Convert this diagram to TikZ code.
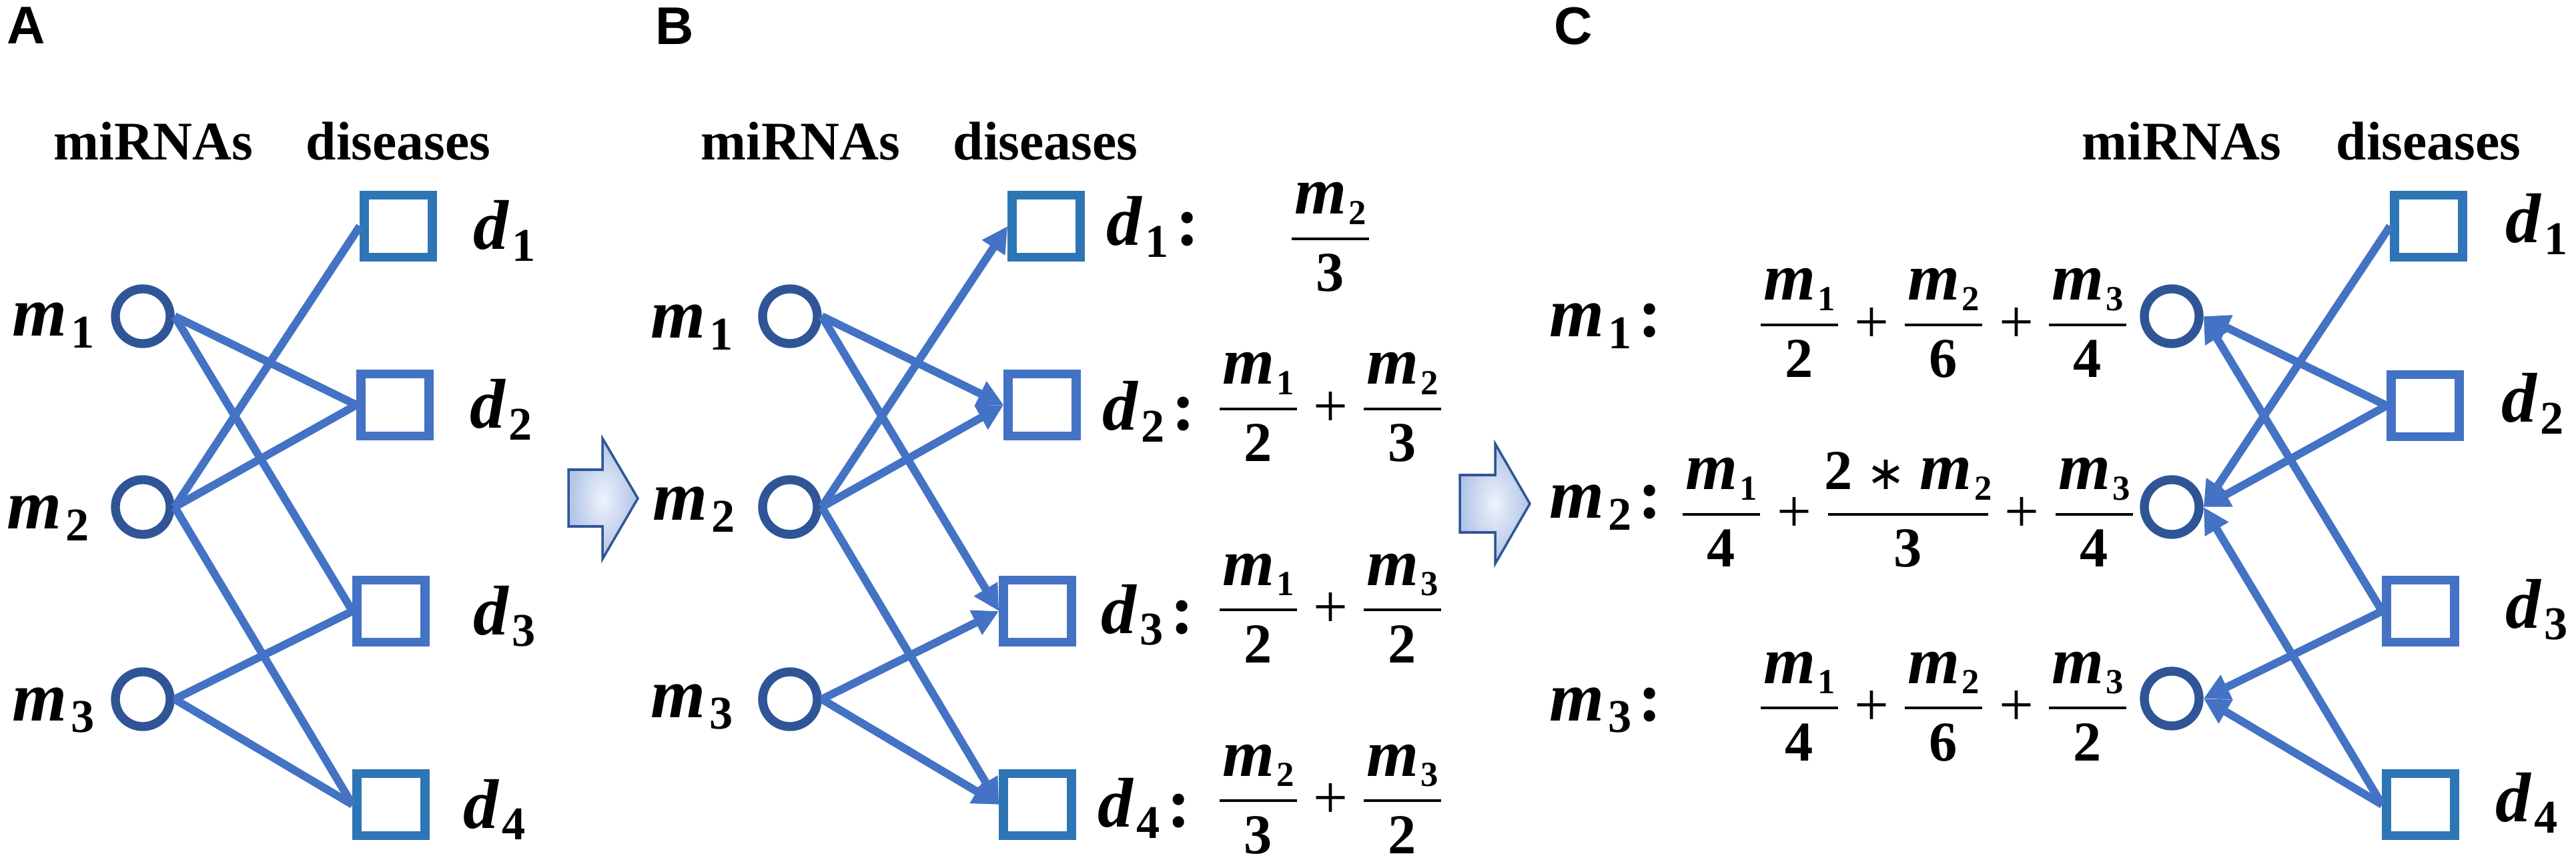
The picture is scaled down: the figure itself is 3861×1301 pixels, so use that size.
\documentclass[tikz,border=0pt]{standalone}
\usepackage{fontspec}
\usetikzlibrary{arrows.meta}
\newfontfamily\tms{Liberation Serif}
\newfontfamily\arl{Liberation Sans}
\newfontfamily\djv{DejaVu Sans}
\definecolor{cLine}{HTML}{4472C4}
\definecolor{cCirc}{HTML}{2F5597}
\definecolor{cSqA}{HTML}{2E75B6}
\definecolor{cSqB}{HTML}{4472C4}
\definecolor{cArrIn}{HTML}{EEF2FB}
\definecolor{cArrOut}{HTML}{AFC3E6}
% label letter with subscript
\newcommand\Lb[2]{{\tms\bfseries\itshape\fontsize{30pt}{30pt}\selectfont #1}\kern1.5pt\raisebox{-5.1pt}{\tms\bfseries\fontsize{20pt}{20pt}\selectfont #2}}
\newcommand\Cl{{\tms\bfseries\fontsize{30pt}{30pt}\selectfont\kern3pt:}}
% numerator letter with subscript
\newcommand\Nu[2]{{\tms\bfseries\itshape\fontsize{28.5pt}{29pt}\selectfont #1}\kern1pt\raisebox{-4.5pt}{\tms\bfseries\fontsize{15pt}{16pt}\selectfont #2}}
\newcommand\Dn[1]{{\tms\bfseries\fontsize{24pt}{24pt}\selectfont #1}}
% fraction: name, x, ybar, halfwidth, numerator, denominator
\newcommand\Fr[6]{%
  \node[txt,anchor=base] (#1n) at (#2,#3-37) {#5};
  \node[txt,anchor=base] (#1d) at (#2,#3+79) {#6};
  \draw[fbar] (#2-#4,#3) -- (#2+#4,#3);}
\newcommand\Pl[3]{\node[txt] (#1) at (#2,#3) {\tms\fontsize{26.2pt}{27pt}\selectfont +};}
\begin{document}
\begin{tikzpicture}[x=0.01cm,y=-0.01cm,
  txt/.style={inner sep=0pt},
  mir/.style={circle,draw=cCirc,line width=3.8pt,fill=white,minimum size=0.82cm,inner sep=0pt},
  dis/.style={rectangle,line width=3.8pt,fill=white,minimum width=1.02cm,minimum height=0.93cm,inner sep=0pt},
  edge/.style={draw=cLine,line width=3.4pt},
  arr/.style={edge,-{Triangle[length=11pt,width=11pt]}},
  fbar/.style={line width=1.4pt,black},
  hdr/.style={txt,anchor=base,font=\tms\bfseries\fontsize{23.2pt}{24pt}\selectfont},
  plab/.style={txt,anchor=base west,font=\arl\bfseries\fontsize{22.6pt}{24pt}\selectfont},
  lab/.style={txt,anchor=base west},
  bigarrow/.style={draw=cCirc,line width=1pt,inner color=cArrIn,outer color=cArrOut}]
\fill[white] (0,0) rectangle (3861,1301);
\useasboundingbox (0,0) rectangle (3861,1301);

% ---------------- Panel A ----------------
\node[plab] (pA) at (10,66) {A};
\node[hdr] (ahm) at (230,240) {miRNAs};
\node[hdr] (ahd) at (597,240) {diseases};
\node[mir] (am1) at (214,474) {};
\node[mir] (am2) at (214,760) {};
\node[mir] (am3) at (214,1048) {};
\node[dis,draw=cSqA] (ad1) at (597,339) {};
\node[dis,draw=cSqB] (ad2) at (592,607) {};
\node[dis,draw=cSqB] (ad3) at (586,916) {};
\node[dis,draw=cSqA] (ad4) at (586,1206) {};
\node[lab] (aml1) at (18,504) {\Lb{m}{1}};
\node[lab] (aml2) at (10,793) {\Lb{m}{2}};
\node[lab] (aml3) at (18,1080) {\Lb{m}{3}};
\node[lab] (adl1) at (709,374) {\Lb{d}{1}};
\node[lab] (adl2) at (704,642) {\Lb{d}{2}};
\node[lab] (adl3) at (709,951) {\Lb{d}{3}};
\node[lab] (adl4) at (694,1241) {\Lb{d}{4}};
\draw[edge] (am1.east) -- (ad2.west);
\draw[edge] (am1.east) -- (ad3.west);
\draw[edge] (am2.east) -- (ad1.west);
\draw[edge] (am2.east) -- (ad2.west);
\draw[edge] (am2.east) -- (ad4.west);
\draw[edge] (am3.east) -- (ad3.west);
\draw[edge] (am3.east) -- (ad4.west);

% big arrow 1
\shadedraw[bigarrow] (852,704) -- (903,704) -- (903,657) -- (956,747) -- (903,838) -- (903,789) -- (852,789) -- cycle;

% ---------------- Panel B ----------------
\node[plab] (pB) at (982,67) {B};
\node[hdr] (bhm) at (1200,240) {miRNAs};
\node[hdr] (bhd) at (1567,240) {diseases};
\node[mir] (bm1) at (1184,474) {};
\node[mir] (bm2) at (1184,760) {};
\node[mir] (bm3) at (1184,1048) {};
\node[dis,draw=cSqA] (bd1) at (1568,339) {};
\node[dis,draw=cSqB] (bd2) at (1562,607) {};
\node[dis,draw=cSqB] (bd3) at (1555,916) {};
\node[dis,draw=cSqA] (bd4) at (1555,1206) {};
\node[lab] (bml1) at (975,507) {\Lb{m}{1}};
\node[lab] (bml2) at (978,780) {\Lb{m}{2}};
\node[lab] (bml3) at (975,1075) {\Lb{m}{3}};
\node[lab] (bdl1) at (1658,368) {\Lb{d}{1}\Cl};
\node[lab] (bdl2) at (1652,645) {\Lb{d}{2}\Cl};
\node[lab] (bdl3) at (1650,949) {\Lb{d}{3}\Cl};
\node[lab] (bdl4) at (1645,1239) {\Lb{d}{4}\Cl};
\draw[arr] (bm1.east) -- (bd2.west);
\draw[arr] (bm1.east) -- (bd3.west);
\draw[arr] (bm2.east) -- (bd1.west);
\draw[arr] (bm2.east) -- (bd2.west);
\draw[arr] (bm2.east) -- (bd4.west);
\draw[arr] (bm3.east) -- (bd3.west);
\draw[arr] (bm3.east) -- (bd4.west);
\Fr{bf1}{1994}{358}{58}{\Nu{m}{2}}{\Dn{3}}
\Fr{bf2a}{1886}{613}{58}{\Nu{m}{1}}{\Dn{2}}
\Pl{bp2}{1994}{613}
\Fr{bf2b}{2102}{613}{58}{\Nu{m}{2}}{\Dn{3}}
\Fr{bf3a}{1886}{914}{58}{\Nu{m}{1}}{\Dn{2}}
\Pl{bp3}{1994}{914}
\Fr{bf3b}{2102}{914}{58}{\Nu{m}{3}}{\Dn{2}}
\Fr{bf4a}{1886}{1200}{58}{\Nu{m}{2}}{\Dn{3}}
\Pl{bp4}{1994}{1200}
\Fr{bf4b}{2102}{1200}{58}{\Nu{m}{3}}{\Dn{2}}

% big arrow 2
\shadedraw[bigarrow] (2188,712) -- (2241,712) -- (2241,665) -- (2293,755) -- (2241,845) -- (2241,798) -- (2188,798) -- cycle;

% ---------------- Panel C ----------------
\node[plab] (pC) at (2329,67) {C};
\node[hdr] (chm) at (3270,240) {miRNAs};
\node[hdr] (chd) at (3640,240) {diseases};
\node[mir] (cm1) at (3255,474) {};
\node[mir] (cm2) at (3255,760) {};
\node[mir] (cm3) at (3255,1047) {};
\node[dis,draw=cSqA] (cd1) at (3640,339) {};
\node[dis,draw=cSqB] (cd2) at (3635,608) {};
\node[dis,draw=cSqB] (cd3) at (3628,916) {};
\node[dis,draw=cSqA] (cd4) at (3628,1206) {};
\node[lab] (cml1) at (2322,505) {\Lb{m}{1}\Cl};
\node[lab] (cml2) at (2322,777) {\Lb{m}{2}\Cl};
\node[lab] (cml3) at (2322,1080) {\Lb{m}{3}\Cl};
\node[lab] (cdl1) at (3755,364) {\Lb{d}{1}};
\node[lab] (cdl2) at (3749,633) {\Lb{d}{2}};
\node[lab] (cdl3) at (3755,941) {\Lb{d}{3}};
\node[lab] (cdl4) at (3740,1231) {\Lb{d}{4}};
\draw[arr] (cd1.west) -- (cm2.east);
\draw[arr] (cd2.west) -- (cm1.east);
\draw[arr] (cd2.west) -- (cm2.east);
\draw[arr] (cd3.west) -- (cm1.east);
\draw[arr] (cd3.west) -- (cm3.east);
\draw[arr] (cd4.west) -- (cm2.east);
\draw[arr] (cd4.west) -- (cm3.east);
% row m1
\Fr{cf1a}{2697}{487}{58}{\Nu{m}{1}}{\Dn{2}}
\Pl{cp1a}{2805}{487}
\Fr{cf1b}{2913}{487}{58}{\Nu{m}{2}}{\Dn{6}}
\Pl{cp1b}{3022}{487}
\Fr{cf1c}{3129}{487}{58}{\Nu{m}{3}}{\Dn{4}}
% row m2
\Fr{cf2a}{2580}{771}{58}{\Nu{m}{1}}{\Dn{4}}
\Pl{cp2a}{2689}{771}
\Fr{cf2b}{2860}{771}{120}{\Dn{2}\kern6pt{\djv\fontsize{20pt}{20pt}\selectfont ∗}\kern6pt\Nu{m}{2}}{\Dn{3}}
\Pl{cp2b}{3030}{771}
\Fr{cf2c}{3139}{771}{58}{\Nu{m}{3}}{\Dn{4}}
% row m3
\Fr{cf3a}{2697}{1061}{58}{\Nu{m}{1}}{\Dn{4}}
\Pl{cp3a}{2805}{1061}
\Fr{cf3b}{2913}{1061}{58}{\Nu{m}{2}}{\Dn{6}}
\Pl{cp3b}{3022}{1061}
\Fr{cf3c}{3129}{1061}{58}{\Nu{m}{3}}{\Dn{2}}
\end{tikzpicture}
\end{document}
